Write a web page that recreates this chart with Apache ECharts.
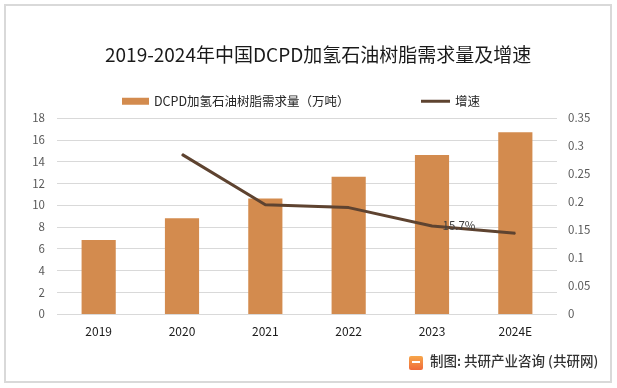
<!DOCTYPE html>
<html>
<head>
<meta charset="utf-8">
<script src="https://cdn.jsdelivr.net/npm/echarts@6/dist/echarts.min.js"></script>
<style>
html,body{margin:0;padding:0;background:#fff;}
#c{width:617px;height:388px;}
</style>
</head>
<body>
<div id="c"></div>
<script>
var categories = ['2019', '2020', '2021', '2022', '2023', '2024E'];
var demand = [6.8, 8.8, 10.6, 12.6, 14.6, 16.7];
var growth = [null, 0.285, 0.195, 0.19, 0.157, 0.144];
var leftTicks = [0, 18, 2];
var rightTicks = [0, 0.35, 0.05];
var titleText = '2019-2024年中国DCPD加氢石油树脂需求量及增速';
var barName = 'DCPD加氢石油树脂需求量（万吨）';
var lineName = '增速';
var sourceText = '制图: 共研产业咨询 (共研网)';

var FONT = '"Noto Sans CJK SC", "Noto Sans", sans-serif';
var chart = echarts.init(document.getElementById('c'), null, {renderer: 'canvas'});
chart.setOption({
  backgroundColor: '#ffffff',
  animation: false,
  title: {
    text: titleText,
    left: 100,
    top: 40,
    textStyle: {fontFamily: FONT, fontSize: 19, fontWeight: 'normal', color: '#1a1a1a'}
  },
  legend: [{
    data: [barName],
    left: 117,
    top: 90,
    icon: 'rect',
    itemWidth: 27,
    itemHeight: 7,
    itemGap: 2,
    textStyle: {fontFamily: FONT, fontSize: 12.5, color: '#262626'}
  }, {
    data: [{name: lineName, icon: 'rect'}],
    left: 416,
    top: 90,
    itemWidth: 29,
    itemHeight: 3,
    textStyle: {fontFamily: FONT, fontSize: 12.5, color: '#262626'}
  }],
  grid: {left: 57, right: 60, top: 118, bottom: 74},
  xAxis: {
    type: 'category',
    data: categories,
    axisLine: {show: false},
    axisTick: {show: false},
    axisLabel: {fontFamily: FONT, fontSize: 12, color: '#1a1a1a', margin: 11}
  },
  yAxis: [{
    type: 'value',
    min: leftTicks[0], max: leftTicks[1], interval: leftTicks[2],
    axisLine: {show: false},
    axisTick: {show: false},
    splitLine: {lineStyle: {color: '#d9d9d9', width: 1}},
    axisLabel: {fontFamily: FONT, fontSize: 11.5, color: '#595959', margin: 12}
  }, {
    type: 'value',
    min: rightTicks[0], max: rightTicks[1], interval: rightTicks[2],
    axisLine: {show: false},
    axisTick: {show: false},
    splitLine: {show: false},
    axisLabel: {fontFamily: FONT, fontSize: 11.5, color: '#595959', margin: 11}
  }],
  series: [{
    name: barName,
    type: 'bar',
    data: demand,
    barWidth: '41%',
    itemStyle: {color: '#D38B4E'}
  }, {
    name: lineName,
    type: 'line',
    yAxisIndex: 1,
    data: growth,
    symbol: 'circle',
    symbolSize: 1,
    showSymbol: true,
    lineStyle: {color: '#5E4330', width: 3},
    itemStyle: {color: '#5E4330'},
    label: {
      show: true,
      position: 'right',
      distance: 10,
      fontFamily: FONT,
      fontSize: 11.5,
      color: '#404040',
      formatter: function (p) {
        return p.dataIndex === 4 ? (p.value * 100).toFixed(1) + '%' : '';
      }
    }
  }],
  graphic: [{
    type: 'rect',
    shape: {x: 5, y: 5, width: 606, height: 377},
    style: {fill: 'none', stroke: '#d9d9d9', lineWidth: 2},
    silent: true
  }, {
    type: 'rect',
    shape: {x: 409, y: 356, width: 14, height: 14, r: 2},
    style: {fill: new echarts.graphic.LinearGradient(0, 0, 0, 1, [{offset: 0, color: '#f7a64a'}, {offset: 1, color: '#ef6a3a'}])}
  }, {
    type: 'rect',
    shape: {x: 412, y: 361, width: 8, height: 2},
    style: {fill: '#ffffff'}
  }, {
    type: 'text',
    left: 430,
    top: 354,
    style: {text: sourceText, font: '500 13.5px "Noto Sans CJK SC", sans-serif', fill: '#333333'}
  }]
});
</script>
</body>
</html>
